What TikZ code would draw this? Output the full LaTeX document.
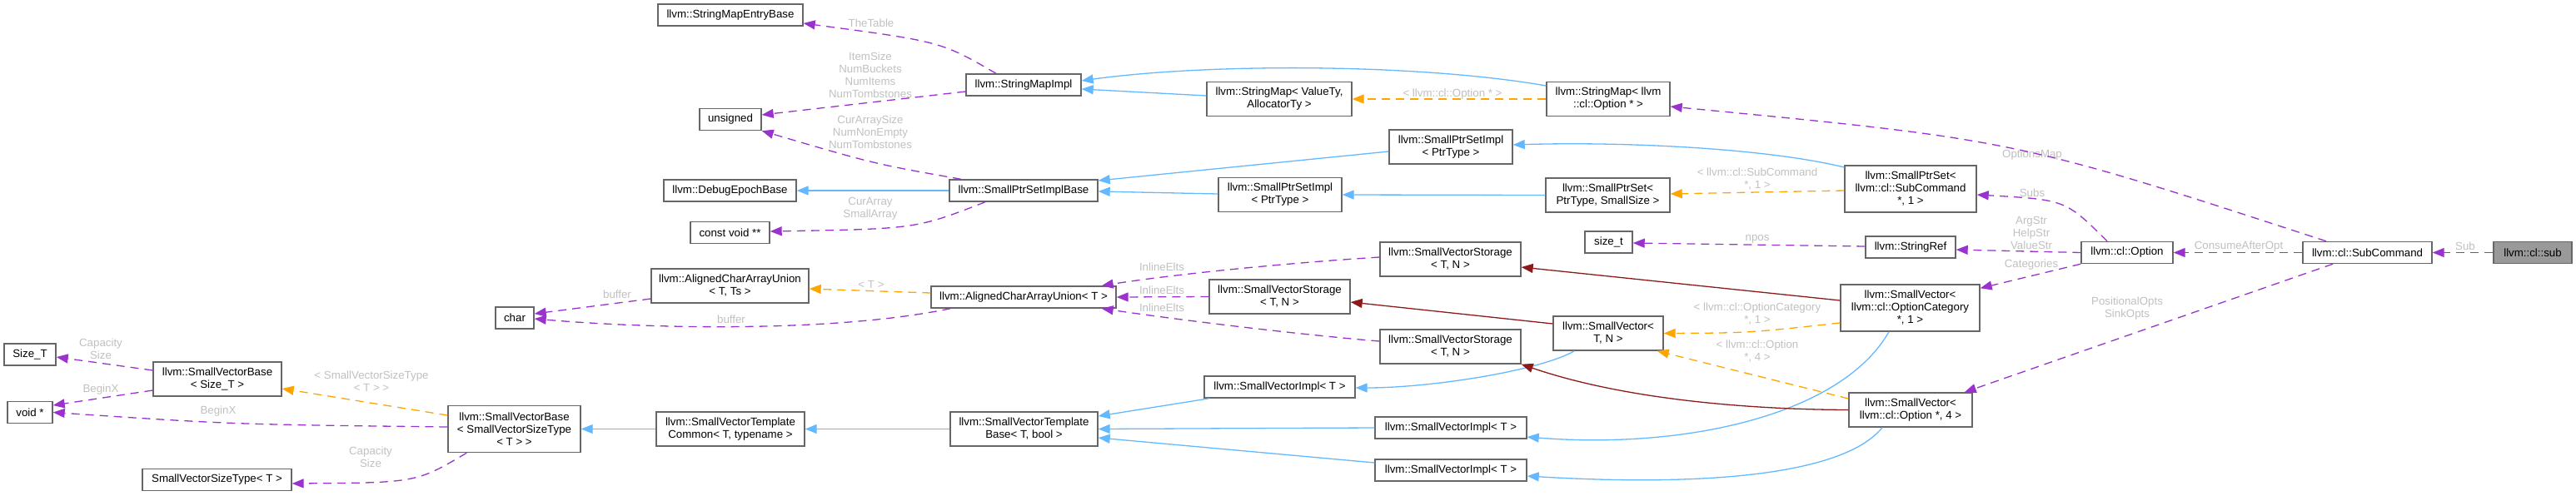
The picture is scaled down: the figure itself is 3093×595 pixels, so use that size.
\documentclass[tikz,border=0pt]{standalone}
\usepackage{fontspec}
\setmainfont{Liberation Sans}
\usetikzlibrary{arrows.meta}
\definecolor{eblue}{HTML}{63B8FF}
\definecolor{dred}{HTML}{8B1A1A}
\definecolor{eorange}{HTML}{FFA500}
\definecolor{epurple}{HTML}{9A32CD}
\definecolor{lblgray}{HTML}{C0C0C0}
\definecolor{nodeborder}{HTML}{666666}
\definecolor{subfill}{HTML}{999999}
\begin{document}
\begin{tikzpicture}[x=1pt,y=-1pt,
  cls/.style={draw=nodeborder, line width=1.4pt, fill=white, inner sep=0pt, align=center, font=\fontsize{13.3}{15}\selectfont},
  lbl/.style={inner sep=0pt, align=center, text=lblgray, font=\fontsize{13.3}{15}\selectfont},
  arr/.style={-{Triangle[length=14pt,width=11pt]}, line width=1.3pt},
  inh/.style={arr, draw=eblue},
  priv/.style={arr, draw=dred},
  tmpl/.style={arr, draw=eorange, dash pattern=on 10pt off 7pt},
  usage/.style={arr, draw=epurple, dash pattern=on 10pt off 7pt},
]
\useasboundingbox (0,0) rectangle (3093,595);

% ---------- nodes ----------
\node[cls, minimum width=174pt, minimum height=26pt] (smeb) at (877,18) {llvm::StringMapEntryBase};
\node[cls, minimum width=138pt, minimum height=26pt] (smi) at (1229,102) {llvm::StringMapImpl};
\node[cls, minimum width=74pt, minimum height=26pt] (uns) at (877,143.5) {unsigned};
\node[cls, minimum width=159pt, minimum height=26pt] (deb) at (876.5,229) {llvm::DebugEpochBase};
\node[cls, minimum width=178pt, minimum height=26pt] (spsib) at (1229,229) {llvm::SmallPtrSetImplBase};
\node[cls, minimum width=95pt, minimum height=26pt] (cvoid) at (876.5,279.5) {const void **};
\node[cls, minimum width=174pt, minimum height=41pt] (smva) at (1536,119) {llvm::StringMap< ValueTy,\\AllocatorTy >};
\node[cls, minimum width=148pt, minimum height=41pt] (smopt) at (1931,119) {llvm::StringMap< llvm\\::cl::Option * >};
\node[cls, minimum width=148pt, minimum height=41pt] (spsi1) at (1742,176.5) {llvm::SmallPtrSetImpl\\< PtrType >};
\node[cls, minimum width=148pt, minimum height=41pt] (spsi2) at (1537,234) {llvm::SmallPtrSetImpl\\< PtrType >};
\node[cls, minimum width=149pt, minimum height=41pt] (spsps) at (1930.5,234.5) {llvm::SmallPtrSet<\\PtrType, SmallSize >};
\node[cls, minimum width=158pt, minimum height=56pt] (spssc) at (2294,227) {llvm::SmallPtrSet<\\llvm::cl::SubCommand\\*, 1 >};
\node[cls, minimum width=57pt, minimum height=26pt] (sizet) at (1931.5,291) {size\_t};
\node[cls, minimum width=108pt, minimum height=26pt] (sref) at (2294,297) {llvm::StringRef};
\node[cls, minimum width=110pt, minimum height=26pt] (opt) at (2554,303.5) {llvm::cl::Option};
\node[cls, minimum width=155pt, minimum height=26pt] (subc) at (2842.5,303.5) {llvm::cl::SubCommand};
\node[cls, fill=subfill, minimum width=94pt, minimum height=26pt] (sub) at (3041,303.5) {llvm::cl::sub};
\node[cls, minimum width=189pt, minimum height=41pt] (acau2) at (876.5,343.5) {llvm::AlignedCharArrayUnion\\< T, Ts >};
\node[cls, minimum width=222pt, minimum height=26pt] (acau) at (1229,357) {llvm::AlignedCharArrayUnion< T >};
\node[cls, minimum width=46pt, minimum height=26pt] (char) at (618,382) {char};
\node[cls, minimum width=169pt, minimum height=41pt] (svs1) at (1741.5,311.5) {llvm::SmallVectorStorage\\< T, N >};
\node[cls, minimum width=169pt, minimum height=41pt] (svs2) at (1536.5,356.5) {llvm::SmallVectorStorage\\< T, N >};
\node[cls, minimum width=169pt, minimum height=41pt] (svs3) at (1741.5,416.5) {llvm::SmallVectorStorage\\< T, N >};
\node[cls, minimum width=132pt, minimum height=41pt] (svtn) at (1931,400.5) {llvm::SmallVector<\\T, N >};
\node[cls, minimum width=167pt, minimum height=56pt] (svoc) at (2293.5,370) {llvm::SmallVector<\\llvm::cl::OptionCategory\\*, 1 >};
\node[cls, minimum width=181pt, minimum height=26pt] (svi1) at (1536.5,465) {llvm::SmallVectorImpl< T >};
\node[cls, minimum width=148pt, minimum height=41pt] (svo4) at (2294,492.5) {llvm::SmallVector<\\llvm::cl::Option *, 4 >};
\node[cls, minimum width=182pt, minimum height=26pt] (svi2) at (1742,514) {llvm::SmallVectorImpl< T >};
\node[cls, minimum width=182pt, minimum height=26pt] (svi3) at (1742,565) {llvm::SmallVectorImpl< T >};
\node[cls, minimum width=178pt, minimum height=41pt] (svtc) at (877,515.5) {llvm::SmallVectorTemplate\\Common< T, typename >};
\node[cls, minimum width=177pt, minimum height=41pt] (svtb) at (1229.5,515.5) {llvm::SmallVectorTemplate\\Base< T, bool >};
\node[cls, minimum width=62pt, minimum height=26pt] (sizeT) at (36,426) {Size\_T};
\node[cls, minimum width=154pt, minimum height=41pt] (svbst) at (261,455.5) {llvm::SmallVectorBase\\< Size\_T >};
\node[cls, minimum width=54pt, minimum height=26pt] (voidp) at (36,495.5) {void *};
\node[cls, minimum width=159pt, minimum height=56pt] (svbsvst) at (617.5,515.5) {llvm::SmallVectorBase\\< SmallVectorSizeType\\< T > >};
\node[cls, minimum width=179pt, minimum height=26pt] (svst) at (260.5,576.5) {SmallVectorSizeType< T >};

% ---------- labels ----------
\node[lbl] (l1) at (1046,28) {TheTable};
\node[lbl] (l2) at (1045,90.5) {ItemSize\\NumBuckets\\NumItems\\NumTombstones};
\node[lbl] (l3) at (1045,159) {CurArraySize\\NumNonEmpty\\NumTombstones};
\node[lbl] (l4) at (1045,250.5) {CurArray\\SmallArray};
\node[lbl] (l5) at (1046,342) {< T >};
\node[lbl] (l6) at (741,354) {buffer};
\node[lbl] (l7) at (878,384) {buffer};
\node[lbl] (l8) at (1395,321) {InlineElts};
\node[lbl] (l9) at (1395,349) {InlineElts};
\node[lbl] (l10) at (1395,370) {InlineElts};
\node[lbl] (l11) at (121,419.5) {Capacity\\Size};
\node[lbl] (l12) at (121,468) {BeginX};
\node[lbl] (l13) at (262,494) {BeginX};
\node[lbl] (l14) at (446,458.5) {< SmallVectorSizeType\\< T > >};
\node[lbl] (l15) at (445,549.5) {Capacity\\Size};
\node[lbl] (l16) at (1744,113) {< llvm::cl::Option * >};
\node[lbl] (l17) at (2110,215.5) {< llvm::cl::SubCommand\\*, 1 >};
\node[lbl] (l18) at (2110,287) {npos};
\node[lbl] (l19) at (2110,377.5) {< llvm::cl::OptionCategory\\*, 1 >};
\node[lbl] (l20) at (2110,422) {< llvm::cl::Option\\*, 4 >};
\node[lbl] (l21) at (2440,186) {OptionsMap};
\node[lbl] (l22) at (2440,232) {Subs};
\node[lbl] (l23) at (2439,280) {ArgStr\\HelpStr\\ValueStr};
\node[lbl] (l24) at (2439,318) {Categories};
\node[lbl] (l25) at (2688,296) {ConsumeAfterOpt};
\node[lbl] (l26) at (2960,296) {Sub};
\node[lbl] (l27) at (2554,370.5) {PositionalOpts\\SinkOpts};

% ---------- inheritance (blue) ----------
\draw[inh] ([yshift=4pt]smva.west) -- ([yshift=-5pt]smi.east);
\draw[inh] ([yshift=16pt]smopt.west) .. controls (1700,76) and (1450,76) .. ([yshift=5pt]smi.east);
\draw[inh] (spsib.west) -- (deb.east);
\draw[inh] ([yshift=-5.5pt]spsi1.west) -- ([yshift=12pt]spsib.east);
\draw[inh] ([yshift=1pt]spsi2.west) -- ([yshift=-1pt]spsib.east);
\draw[inh] ([yshift=26pt]spssc.west) .. controls (2120,178) and (1950,170) .. ([yshift=2.5pt]spsi1.east);
\draw[inh] (spsps.west) -- (spsi2.east);
\draw[inh] (svtc.west) -- (svbsvst.east);
\draw[inh] (svtb.west) -- (svtc.east);
\draw[inh] ([xshift=7pt]svi1.south west) -- ([yshift=15.5pt]svtb.east);
\draw[inh] (svi2.west) -- (svtb.east);
\draw[inh] ([yshift=9pt]svi3.west) -- ([yshift=-10.5pt]svtb.east);
\draw[inh] ([xshift=26pt]svtn.south west) .. controls (1850,445) and (1720,466) .. ([yshift=-1pt]svi1.east);
\draw[inh] ([xshift=-25.5pt]svoc.south) .. controls (2210,500) and (2020,540) .. ([yshift=-11pt]svi2.east);
\draw[inh] ([xshift=-34pt]svo4.south) .. controls (2215,570) and (2050,585) .. ([yshift=-7pt]svi3.east);

% ---------- private inheritance (dark red) ----------
\draw[priv] ([yshift=9pt]svoc.west) -- ([yshift=-9.5pt]svs1.east);
\draw[priv] ([yshift=11.5pt]svtn.west) -- ([yshift=-6.5pt]svs2.east);
\draw[priv] (svo4.west) .. controls (2100,492) and (1950,480) .. (svs3.south east);

% ---------- template instances (orange) ----------
\draw[tmpl] ([yshift=5pt]acau.west) -- ([yshift=-3.5pt]acau2.east);
\draw[tmpl] (smopt.west) -- (smva.east);
\draw[tmpl] ([yshift=-2pt]spssc.west) -- ([yshift=1.5pt]spsps.east);
\draw[tmpl] ([yshift=-18pt]svoc.west) .. controls (2100,400) .. (svtn.east);
\draw[tmpl] ([yshift=13.5pt]svo4.west) -- ([xshift=-8pt]svtn.south east);
\draw[tmpl] ([yshift=16.5pt]svbsvst.west) -- ([yshift=-11.5pt]svbst.east);

% ---------- usage (purple) ----------
\draw[usage] ([xshift=-33pt]smi.north) .. controls (1130,50) .. ([yshift=-10pt]smeb.east);
\draw[usage] ([yshift=-8pt]smi.west) -- ([yshift=5.5pt]uns.east);
\draw[usage] ([xshift=-75pt]spsib.north) .. controls (1050,197) .. (uns.south east);
\draw[usage] ([xshift=-46pt]spsib.south) .. controls (1100,275) .. ([yshift=1.5pt]cvoid.east);
\draw[usage] ([yshift=-15.5pt]acau2.west) -- ([yshift=5pt]char.east);
\draw[usage] ([xshift=24pt]acau.south west) .. controls (1000,400) and (780,395) .. ([yshift=-1pt]char.east);
\draw[usage] ([yshift=2.5pt]svs1.west) .. controls (1560,315) and (1420,328) .. ([xshift=-18pt]acau.north east);
\draw[usage] (svs2.west) -- (acau.east);
\draw[usage] ([yshift=6.5pt]svs3.west) .. controls (1560,402) and (1420,385) .. ([xshift=-18pt]acau.south east);
\draw[usage] ([yshift=10.5pt]svbst.west) -- ([yshift=-3pt]sizeT.east);
\draw[usage] ([yshift=-13.5pt]svbst.west) -- ([yshift=8.5pt]voidp.east);
\draw[usage] ([yshift=2.5pt]svbsvst.west) .. controls (280,510) .. (voidp.east);
\draw[usage] ([xshift=23pt]svbsvst.south west) .. controls (500,580) .. ([yshift=-4.5pt]svst.east);
\draw[usage] ([xshift=-49.5pt]subc.north) .. controls (2420,168) .. ([yshift=-9pt]smopt.east);
\draw[usage] ([xshift=-24pt]opt.north) .. controls (2480,240) .. ([yshift=-7pt]spssc.east);
\draw[usage] ([yshift=1pt]sref.west) -- ([yshift=-1pt]sizet.east);
\draw[usage] (opt.west) -- ([yshift=-3pt]sref.east);
\draw[usage] (opt.south west) -- ([yshift=-5pt]svoc.north east);
\draw[usage] (subc.west) -- (opt.east);
\draw[usage] ([xshift=-41.5pt]subc.south) -- ([xshift=-10pt]svo4.north east);
\draw[usage] (sub.west) -- (subc.east);
\end{tikzpicture}
\end{document}
